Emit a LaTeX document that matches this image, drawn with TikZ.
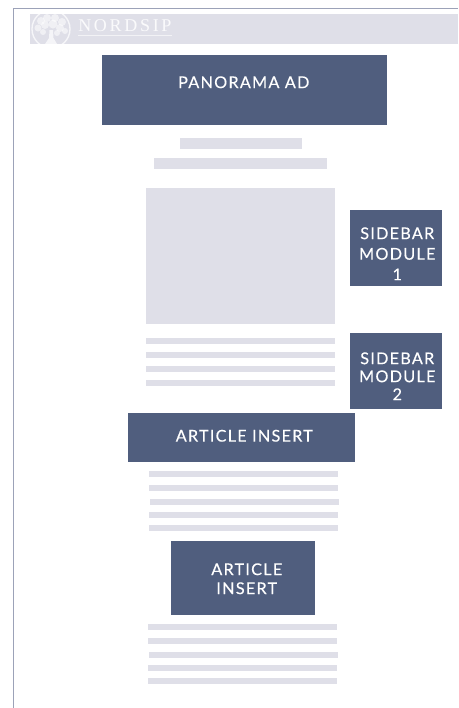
\documentclass[tikz,border=0pt]{standalone}
\usepackage{fontspec}
\setmainfont{Lato}
\newfontfamily\logofont[LetterSpace=15]{Liberation Serif}
\newfontfamily\adfont[LetterSpace=7.5,FakeBold=0.25]{Lato}
\definecolor{adblue}{HTML}{505E7E}
\definecolor{pale}{HTML}{DFDFE8}
\definecolor{framec}{HTML}{9CA2B8}
\tikzset{
 px/.style={x=0.75pt,y=-0.75pt},
 adbox/.style={fill=adblue,draw=none,inner sep=0pt,anchor=north west},
 adlabel/.style={text=white,align=center,inner sep=0pt,font=\adfont\fontsize{12.2pt}{14pt}\selectfont},
 bar/.style={fill=pale,draw=none},
 framel/.style={draw=framec,line width=1.3pt},
 logow/.style={fill=white,fill opacity=.55,draw=none}
}
% name, x, y, w, h, dx, dy (px), text
\newcommand{\adnode}[8]{\node[adbox,minimum width=#4*0.75pt,minimum height=#5*0.75pt,
  label={[adlabel,xshift=#6*0.75pt,yshift=-#7*0.75pt]center:{#8}}] (#1) at (#2,#3) {};}
\begin{document}
\begin{tikzpicture}[px]
\useasboundingbox (0,0) rectangle (458,708);
\fill[white] (0,0) rectangle (458,708);
\draw[framel] (13.5,708) -- (13.5,8.5) -- (458,8.5);
% header band and logo
\fill[bar] (30,14) rectangle (458,44);
\draw[white,opacity=.75,line width=1pt] (51,29) circle (19);
\foreach \a/\b/\r in {41/21/4,47/18/4,55/18/4,62/22/4,38/28/3.5,45/25/4,53/24/4.5,60/28/4,65/31/3,43/32/3,57/33/3}{\fill[logow] (\a,\b) circle (\r);}
\fill[white,opacity=.7] (49.5,30) -- (53,30) -- (53.5,38) -- (57,44) -- (45,44) -- (49,38) -- cycle;
\node[anchor=west,inner sep=0pt,text=white,text opacity=.85,font=\logofont\fontsize{13.5pt}{14pt}\selectfont] (logo) at (78,25.5) {NORDSIP};
\fill[white,opacity=.6] (78,35) rectangle (172,36);
% ads
\adnode{pano}{102}{55}{285}{70}{-1}{-8}{PANORAMA AD}
\fill[bar] (180,138) rectangle (302,149);
\fill[bar] (154,158) rectangle (327,169);
\fill[bar] (146,188) rectangle (335,324);
\adnode{sa}{350}{210}{92}{76}{1}{5.5}{SIDEBAR\\[1.4pt]MODULE\\[1.4pt]1}
\adnode{sb}{350}{333}{92}{76}{1}{5}{SIDEBAR\\[-.5pt]MODULE\\[-.5pt]2}
\foreach \y in {338,352,366,380}{\fill[bar] (146,\y) rectangle (335,\y+5.5);}
\adnode{ia}{128}{413}{227}{49}{2.5}{-2}{ARTICLE INSERT}
\foreach \x/\y in {149/471,149/485,150/499,149/512,149/525}{\fill[bar] (\x,\y) rectangle (\x+189,\y+5.5);}
\adnode{ib}{171}{541}{144}{74}{3.5}{0.5}{ARTICLE\\[.25pt]INSERT}
\foreach \x/\y in {148/624,148/638,149/652,148/665,148/678}{\fill[bar] (\x,\y) rectangle (\x+189,\y+5.5);}
\end{tikzpicture}
\end{document}
